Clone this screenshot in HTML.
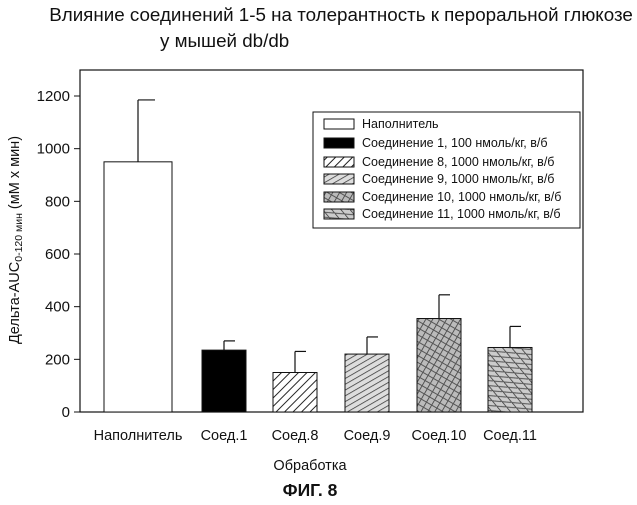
<!DOCTYPE html>
<html><head><meta charset="utf-8"><style>
body{margin:0;background:#fff;}
svg text{font-family:"Liberation Sans",sans-serif;fill:#111;}
</style></head><body>
<svg width="637" height="500" viewBox="0 0 637 500" xmlns="http://www.w3.org/2000/svg">
<defs>
<pattern id="p8" patternUnits="userSpaceOnUse" width="6" height="6" patternTransform="rotate(45)"><rect width="6" height="6" fill="#fff"/><line x1="0" y1="0" x2="0" y2="6" stroke="#222" stroke-width="2"/></pattern>
<pattern id="p9" patternUnits="userSpaceOnUse" width="8" height="5" patternTransform="rotate(-30)"><rect width="8" height="5" fill="#ddd"/><line x1="0" y1="0" x2="8" y2="0" stroke="#333" stroke-width="1.5"/></pattern>
<pattern id="p10" patternUnits="userSpaceOnUse" width="6" height="6" patternTransform="rotate(30)"><rect width="6" height="6" fill="#bbb"/><line x1="0" y1="0" x2="0" y2="6" stroke="#333" stroke-width="1.5"/><line x1="0" y1="3" x2="6" y2="3" stroke="#555" stroke-width="1"/></pattern>
<pattern id="p11" patternUnits="userSpaceOnUse" width="7" height="7" patternTransform="rotate(-40)"><rect width="7" height="7" fill="#ccc"/><line x1="0" y1="0" x2="0" y2="7" stroke="#333" stroke-width="1.5"/><line x1="0" y1="0" x2="7" y2="7" stroke="#555" stroke-width="1"/></pattern>
</defs>
<text x="341" y="21" font-size="18.8" text-anchor="middle">Влияние соединений 1-5 на толерантность к пероральной глюкозе</text>
<text x="160" y="47" font-size="18.8">у мышей db/db</text>
<rect x="80" y="70" width="503" height="342" fill="none" stroke="#111" stroke-width="1.2"/>
<g id="yaxis"></g>
<g id="bars"></g>
<g id="xlabels"></g>
<text transform="translate(19,240) rotate(-90)" font-size="14.5" text-anchor="middle">Дельта-AUC<tspan font-size="10.5" dy="3">0-120 мин</tspan><tspan dy="-3">   (мМ х мин)</tspan></text>
<text x="310" y="470" font-size="14.5" text-anchor="middle">Обработка</text>
<text x="310" y="496" font-size="17.5" font-weight="bold" text-anchor="middle">ФИГ. 8</text>
<g>
<rect x="313" y="112" width="267" height="116" fill="#fff" stroke="#111" stroke-width="1"/>
<g id="legend"></g>
</g>
</svg>
<script>
const categories=["Наполнитель","Соед.1","Соед.8","Соед.9","Соед.10","Соед.11"];
const values=[950,235,150,220,355,245];
const errors=[235,35,80,65,90,80];
const legendLabels=["Наполнитель","Соединение 1, 100 нмоль/кг, в/б","Соединение 8, 1000 нмоль/кг, в/б","Соединение 9, 1000 нмоль/кг, в/б","Соединение 10, 1000 нмоль/кг, в/б","Соединение 11,  1000 нмоль/кг, в/б"];
const yTicks=[0,200,400,600,800,1000,1200];
const fills=["#fff","#000","url(#p8)","url(#p9)","url(#p10)","url(#p11)"];
const NS="http://www.w3.org/2000/svg";
const y=v=>412-v*316/1200;
const centers=[138,224,295,367,439,510];
const widths=[68,44,44,44,44,44];
function mk(tag,attrs,parent){const e=document.createElementNS(NS,tag);for(const k in attrs)e.setAttribute(k,attrs[k]);parent.appendChild(e);return e;}
const ya=document.getElementById('yaxis');
yTicks.forEach(t=>{
 const l=mk('line',{x1:74,x2:80,y1:y(t),y2:y(t),stroke:'#111'},ya);
 
 
 const tx=mk('text',{x:70,y:y(t)+5,'font-size':15,'text-anchor':'end'},ya);
 
 
 tx.textContent=t;
});
const bg=document.getElementById('bars'),xl=document.getElementById('xlabels');
categories.forEach((c,i)=>{
 const cx=centers[i],w=widths[i],top=y(values[i]),et=y(values[i]+errors[i]);
 const el=mk('line',{x1:cx,x2:cx,y1:top,y2:et,stroke:'#111','stroke-width':1.2},bg);
 
 
 const cap=mk('line',{x1:cx,x2:cx+w/4,y1:et,y2:et,stroke:'#111','stroke-width':1.2},bg);
 
 
 const r=mk('rect',{x:cx-w/2,y:top,width:w,height:412-top,fill:fills[i],stroke:'#111','stroke-width':1},bg);
 
 
 const t=mk('text',{x:cx,y:440,'font-size':14.5,'text-anchor':'middle'},xl);
 
 
 t.textContent=c;
});
const lg=document.getElementById('legend');
const ly=[128,147,166,183,201,218];
legendLabels.forEach((s,i)=>{
 const r=mk('rect',{x:324,y:ly[i]-9,width:30,height:10,fill:fills[i],stroke:'#111','stroke-width':1},lg);
 
 
 const t=mk('text',{x:362,y:ly[i],'font-size':12.5},lg);
 
 
 t.textContent=s;
});
</script>
</body></html>
